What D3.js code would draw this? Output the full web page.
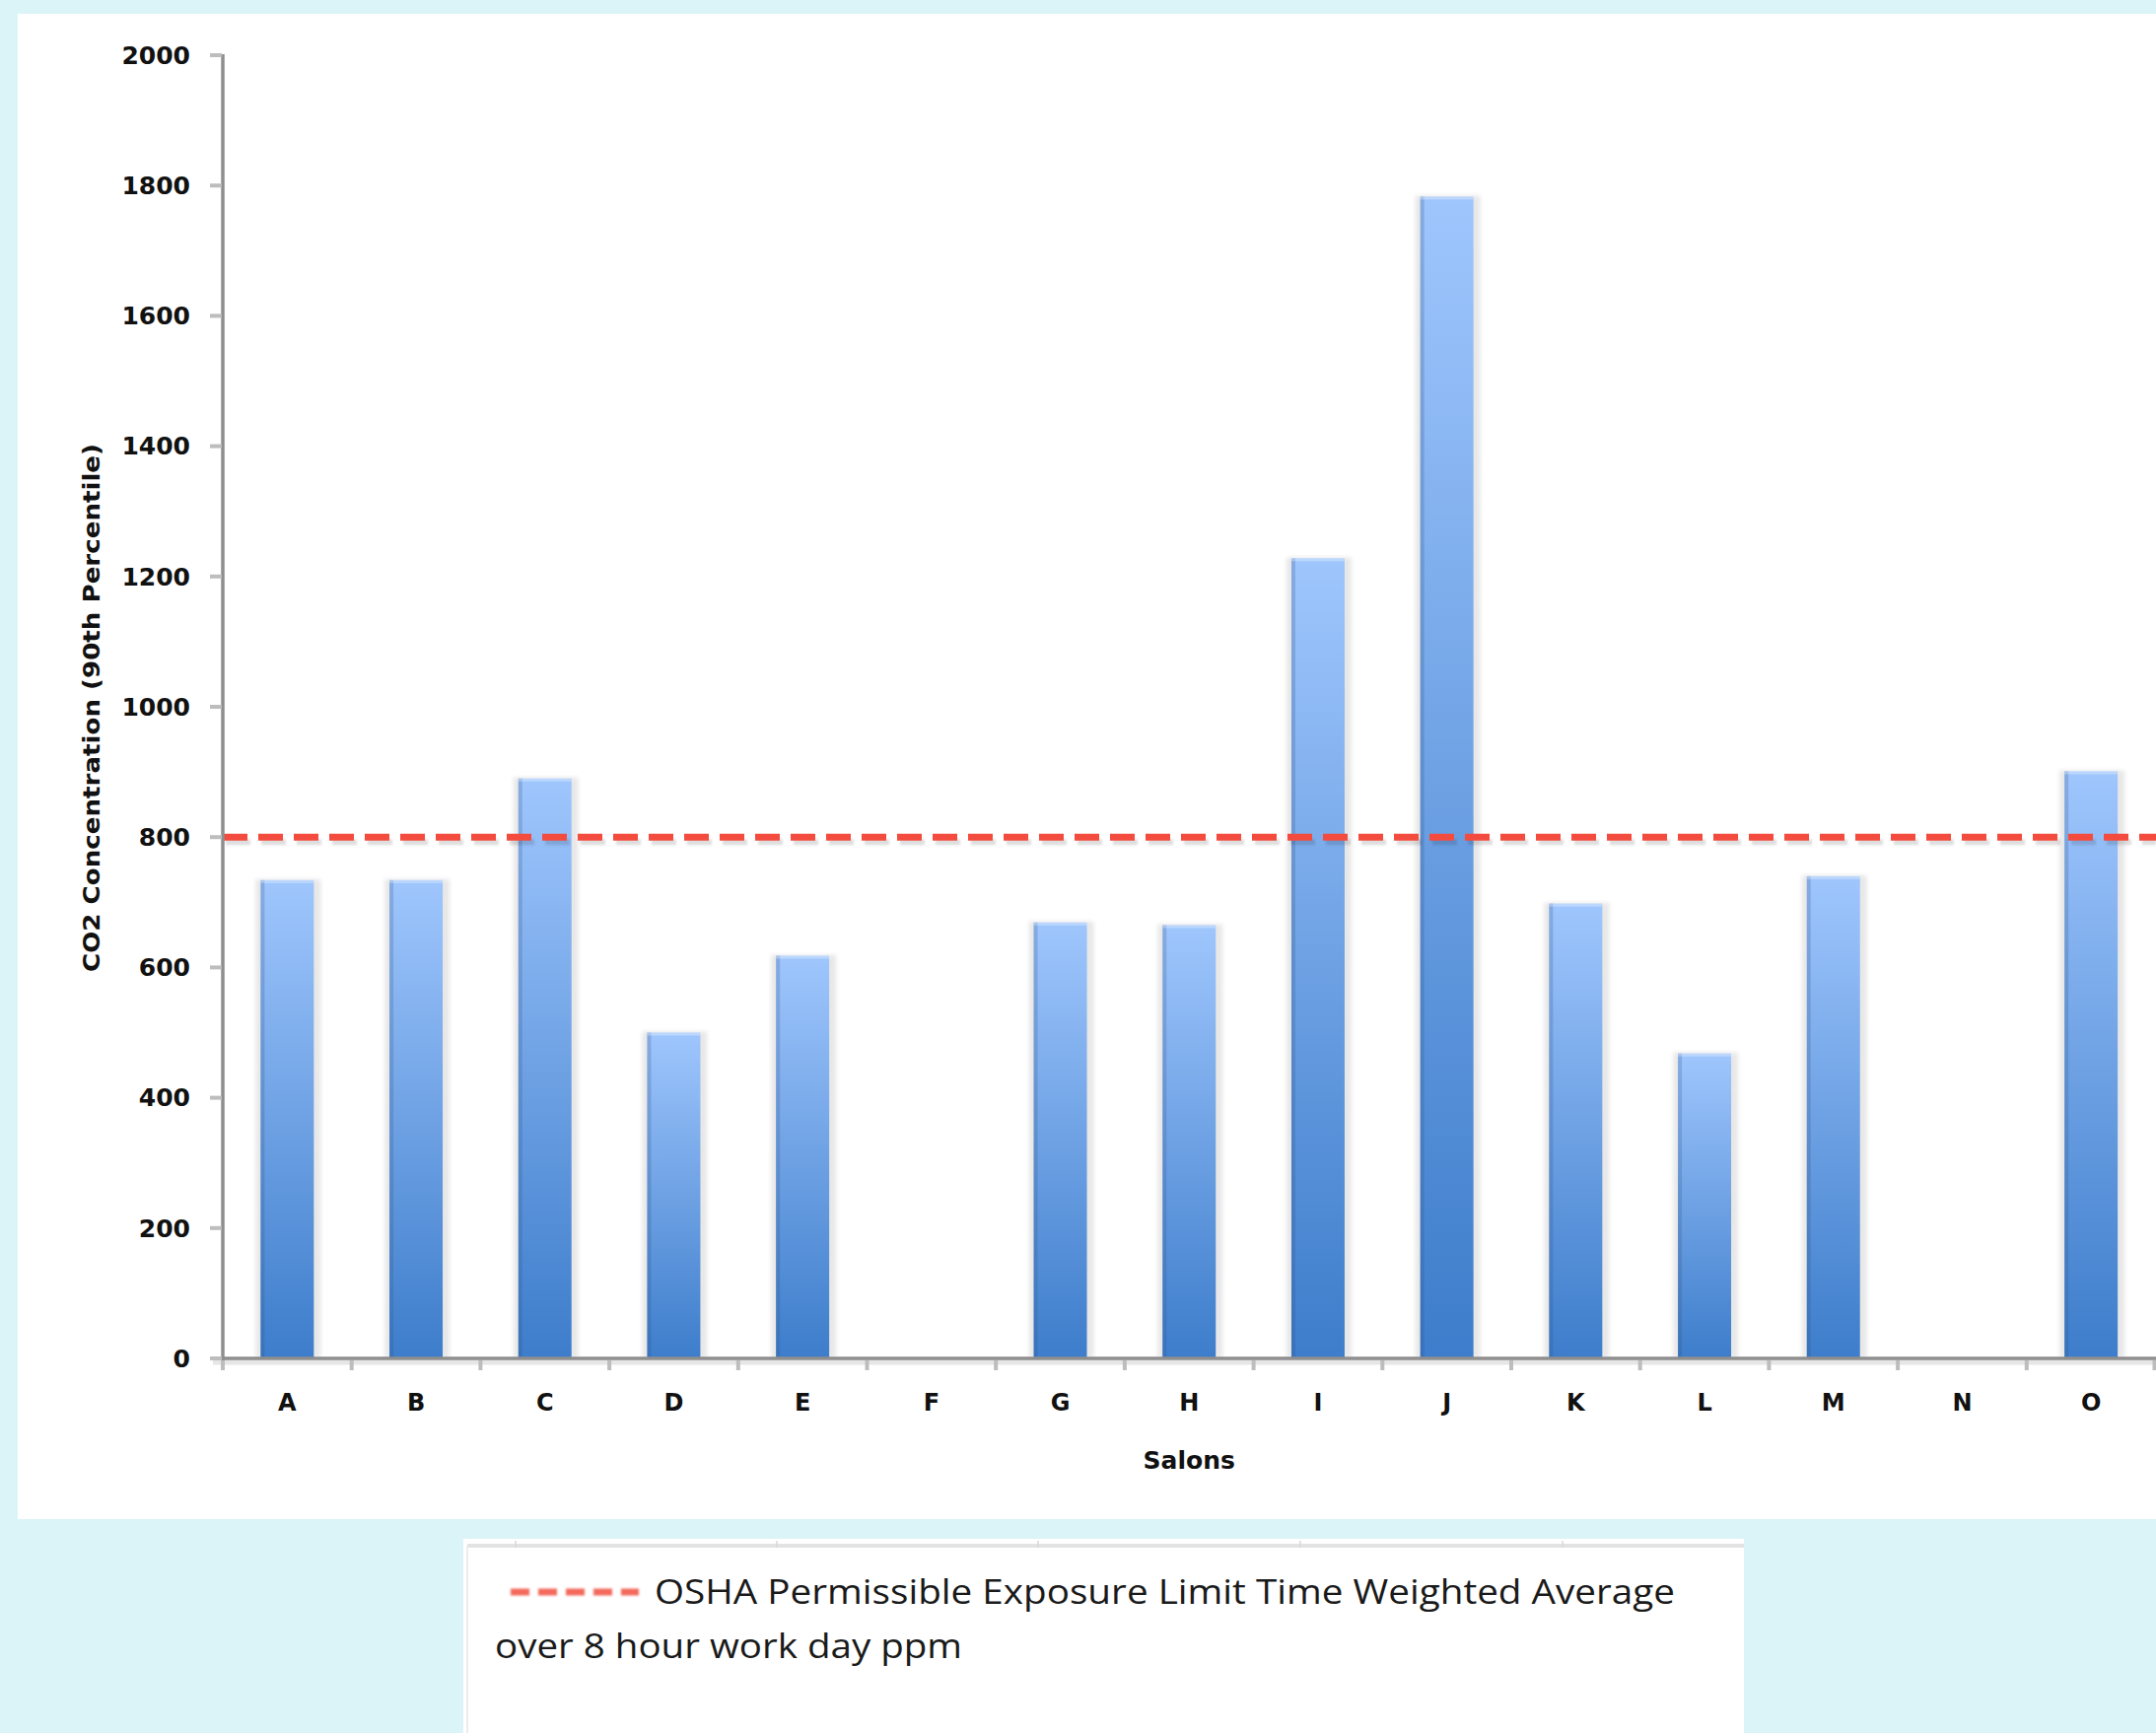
<!DOCTYPE html>
<html>
<head>
<meta charset="utf-8">
<script src="https://cdn.jsdelivr.net/npm/d3@7"></script>
<style>
  html, body { margin: 0; padding: 0; background: #dbf4f8; }
  svg { display: block; }
</style>
</head>
<body>
<svg id="chart" width="2187" height="1758"></svg>
<script>
// ---- data ----
const categories = ["A","B","C","D","E","F","G","H","I","J","K","L","M","N","O"];
const co2Values = [734, 734, 890, 500, 618, null, 669, 665, 1228, 1783, 698, 468, 740, null, 901];
const yTickValues = [0, 200, 400, 600, 800, 1000, 1200, 1400, 1600, 1800, 2000];
const oshaLimit = [800];
const yAxisTitle = "CO2 Concentration (90th Percentile)";
const xAxisTitle = "Salons";
const legendLines = ["OSHA Permissible Exposure Limit Time Weighted Average", "over 8 hour work day ppm"];

// ---- layout ----
const W = 2187, H = 1758;
const svg = d3.select("#chart");
const defs = svg.append("defs");

const grad = defs.append("linearGradient").attr("id", "barGrad")
  .attr("x1", 0).attr("y1", 0).attr("x2", 0).attr("y2", 1);
grad.append("stop").attr("offset", "0%").attr("stop-color", "#9fc6fd");
grad.append("stop").attr("offset", "100%").attr("stop-color", "#3d7dcb");

const blur = defs.append("filter").attr("id", "soft").attr("x", "-20%").attr("y", "-20%").attr("width", "140%").attr("height", "140%");
blur.append("feGaussianBlur").attr("stdDeviation", 2);
const blur2 = defs.append("filter").attr("id", "soft2").attr("filterUnits", "userSpaceOnUse")
  .attr("x", 0).attr("y", 0).attr("width", W).attr("height", H);
blur2.append("feGaussianBlur").attr("stdDeviation", 1.2);

// background panels
svg.append("rect").attr("x", 0).attr("y", 0).attr("width", W).attr("height", H).attr("fill", "#dbf4f8");
svg.append("rect").attr("x", 18).attr("y", 14).attr("width", W - 18).attr("height", 1541 - 14).attr("fill", "#ffffff");

const x = d3.scaleBand().domain(categories).range([226, 2186.5]).paddingInner(0.587).paddingOuter(0.2935);
const y = d3.scaleLinear().domain([0, 2000]).range([1378, 56]);

const data = categories.map((c, i) => ({ cat: c, val: co2Values[i] })).filter(d => d.val != null);

const fontBold = "'DejaVu Sans', sans-serif";

// bars: shadow
svg.append("g").selectAll("rect").data(data).join("rect")
  .attr("x", d => x(d.cat) - 5)
  .attr("y", d => y(d.val) - 1)
  .attr("width", x.bandwidth() + 12)
  .attr("height", d => y(0) - y(d.val) + 1)
  .attr("fill", "#000").attr("opacity", 0.09).attr("filter", "url(#soft)");

// bars: main
svg.append("g").selectAll("rect").data(data).join("rect")
  .attr("x", d => x(d.cat))
  .attr("y", d => y(d.val))
  .attr("width", x.bandwidth())
  .attr("height", d => y(0) - y(d.val))
  .attr("fill", "url(#barGrad)");

// bars: left darker edge
svg.append("g").selectAll("rect").data(data).join("rect")
  .attr("x", d => x(d.cat))
  .attr("y", d => y(d.val))
  .attr("width", 4)
  .attr("height", d => y(0) - y(d.val))
  .attr("fill", "#2c4f80").attr("opacity", 0.22);

// bars: top highlight
svg.append("g").selectAll("rect").data(data).join("rect")
  .attr("x", d => x(d.cat))
  .attr("y", d => y(d.val))
  .attr("width", x.bandwidth())
  .attr("height", 3)
  .attr("fill", "#ffffff").attr("opacity", 0.3);

// OSHA line: shadow + line
const lineG = svg.append("g");
lineG.selectAll("line.shadow").data(oshaLimit).join("line").attr("class", "shadow")
  .attr("x1", x.range()[0] + 3).attr("x2", W)
  .attr("y1", d => y(d) + 5).attr("y2", d => y(d) + 5)
  .attr("stroke", "#000").attr("stroke-opacity", 0.13).attr("stroke-width", 6)
  .attr("stroke-dasharray", "25,11").attr("filter", "url(#soft2)");
lineG.selectAll("line.main").data(oshaLimit).join("line").attr("class", "main")
  .attr("x1", x.range()[0]).attr("x2", W)
  .attr("y1", d => y(d)).attr("y2", d => y(d))
  .attr("stroke", "#f44b3f").attr("stroke-width", 7)
  .attr("stroke-dasharray", "25,11");

// X axis
const xAxisG = svg.append("g");
xAxisG.append("line").attr("x1", 216).attr("x2", W).attr("y1", y(0) + 4).attr("y2", y(0) + 4)
  .attr("stroke", "#e6e6e6").attr("stroke-width", 5);
xAxisG.append("line").attr("x1", 216).attr("x2", W).attr("y1", y(0)).attr("y2", y(0))
  .attr("stroke", "#8e8e8e").attr("stroke-width", 3.5);
const boundaries = categories.map(c => x(c) - x.step() * x.paddingInner() / 2).concat([x.range()[1] - 1]);
xAxisG.selectAll("rect.tick").data(boundaries).join("rect").attr("class", "tick")
  .attr("x", d => d - 2).attr("y", y(0) + 2).attr("width", 4).attr("height", 10)
  .attr("fill", "#bdbdbd");
xAxisG.selectAll("text").data(categories).join("text")
  .attr("x", d => x(d) + x.bandwidth() / 2)
  .attr("y", 1423)
  .attr("dy", "0.35em")
  .attr("text-anchor", "middle")
  .attr("font-family", fontBold).attr("font-weight", "bold").attr("font-size", 24)
  .attr("fill", "#111")
  .text(d => d);

// Y axis
const yAxisG = svg.append("g");
yAxisG.append("line").attr("x1", 226).attr("x2", 226).attr("y1", y(2000) - 1).attr("y2", y(0) + 2)
  .attr("stroke", "#8e8e8e").attr("stroke-width", 3.5);
yAxisG.selectAll("rect.tick").data(yTickValues).join("rect").attr("class", "tick")
  .attr("x", 213).attr("y", d => y(d) - 2).attr("width", 12).attr("height", 4)
  .attr("fill", "#bdbdbd");
yAxisG.selectAll("text").data(yTickValues).join("text")
  .attr("x", 193)
  .attr("y", d => y(d))
  .attr("dy", "0.35em")
  .attr("text-anchor", "end")
  .attr("font-family", fontBold).attr("font-weight", "bold").attr("font-size", 25)
  .attr("fill", "#111")
  .text(d => d);

// axis titles
svg.append("text")
  .attr("transform", "translate(93,718) rotate(-90)")
  .attr("text-anchor", "middle").attr("dy", "0.35em")
  .attr("font-family", fontBold).attr("font-weight", "bold").attr("font-size", 23)
  .attr("fill", "#111")
  .attr("textLength", 536).attr("lengthAdjust", "spacingAndGlyphs")
  .text(yAxisTitle);
svg.append("text")
  .attr("x", (x.range()[0] + x.range()[1]) / 2).attr("y", 1481).attr("dy", "0.35em")
  .attr("text-anchor", "middle")
  .attr("font-family", fontBold).attr("font-weight", "bold").attr("font-size", 25)
  .attr("fill", "#111")
  .text(xAxisTitle);

// Legend box
const lg = svg.append("g");
lg.append("rect").attr("x", 470).attr("y", 1561).attr("width", 1299).attr("height", H - 1561).attr("fill", "#ffffff");
lg.append("line").attr("x1", 474).attr("x2", 1769).attr("y1", 1568).attr("y2", 1568)
  .attr("stroke", "#e3e3e3").attr("stroke-width", 4);
lg.append("line").attr("x1", 474).attr("x2", 474).attr("y1", 1568).attr("y2", H)
  .attr("stroke", "#ececec").attr("stroke-width", 2);
const legendTicks = [523, 788, 1053, 1319, 1585];
lg.selectAll("line.lt").data(legendTicks).join("line").attr("class", "lt")
  .attr("x1", d => d).attr("x2", d => d).attr("y1", 1563).attr("y2", 1570)
  .attr("stroke", "#d8d8d8").attr("stroke-width", 1.5);
lg.append("line").attr("x1", 518).attr("x2", 648).attr("y1", 1615).attr("y2", 1615)
  .attr("stroke", "#f36a5c").attr("stroke-width", 7).attr("stroke-dasharray", "19,9")
  .attr("filter", "url(#soft2)");
lg.append("text").attr("x", 664).attr("y", 1615).attr("dy", "0.36em")
  .attr("font-family", "'Open Sans', sans-serif").attr("font-size", 34).attr("fill", "#1a1a1a")
  .attr("textLength", 1035).attr("lengthAdjust", "spacingAndGlyphs")
  .text(legendLines[0]);
lg.append("text").attr("x", 502).attr("y", 1670).attr("dy", "0.36em")
  .attr("font-family", "'Open Sans', sans-serif").attr("font-size", 34).attr("fill", "#1a1a1a")
  .attr("textLength", 474).attr("lengthAdjust", "spacingAndGlyphs")
  .text(legendLines[1]);
</script>
</body>
</html>
